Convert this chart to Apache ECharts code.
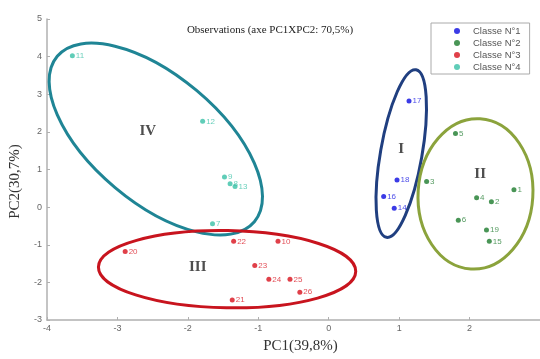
<!DOCTYPE html>
<html>
<head>
<meta charset="utf-8">
<script src="https://cdn.jsdelivr.net/npm/echarts@6/dist/echarts.min.js"></script>
<style>html,body{margin:0;padding:0;background:#fff}#c{width:540px;height:359px}</style>
</head>
<body>
<div id="c"></div>
<script>
// ---- data ----
const classNames = ['Classe N°1', 'Classe N°2', 'Classe N°3', 'Classe N°4'];
const class1 = [[1.14, 2.82, '17'], [0.97, 0.72, '18'], [0.78, 0.28, '16'], [0.93, -0.03, '14']];
const class2 = [[1.80, 1.96, '5'], [1.39, 0.68, '3'], [2.63, 0.46, '1'], [2.10, 0.25, '4'], [2.31, 0.14, '2'], [1.84, -0.35, '6'], [2.24, -0.61, '19'], [2.28, -0.91, '15']];
const class3 = [[-1.35, -0.91, '22'], [-0.72, -0.91, '10'], [-1.05, -1.55, '23'], [-0.85, -1.92, '24'], [-0.55, -1.92, '25'], [-0.41, -2.26, '26'], [-1.37, -2.47, '21'], [-2.89, -1.18, '20']];
const class4 = [[-3.64, 4.02, '11'], [-1.79, 2.28, '12'], [-1.48, 0.80, '9'], [-1.40, 0.62, '8'], [-1.33, 0.55, '13'], [-1.65, -0.44, '7']];
// group ellipses: centre x, centre y, semi-axis along x (x units), semi-axis along y (x units), clockwise tilt (deg)
const groupEllipses = [[-2.455, 1.81, 1.827, 0.90, 40], [1.03, 1.424, 0.295, 1.208, 10], [2.084, 0.352, 0.815, 1.068, 3.5], [-1.443, -1.65, 1.827, 0.548, 1]];
const groupNames = ['IV', 'I', 'II', 'III'];
const groupLabelPos = [[-2.57, 2.02], [1.03, 1.55], [2.15, 0.88], [-1.86, -1.59]];
const xTicks = [-4, -3, -2, -1, 0, 1, 2, 3];
const yTicks = [-3, -2, -1, 0, 1, 2, 3, 4, 5];

// ---- styles ----
const classColors = ['#0a0ae0', '#1c7a2c', '#d8101c', '#38c0a6'];
const ellipseColors = ['#1f8595', '#203f80', '#8ba33c', '#c8141e'];
const serif = 'Liberation Serif';

const chart = echarts.init(document.getElementById('c'), null, {renderer: 'canvas'});

function pointSeries(name, data, color) {
  return {
    name: name, type: 'scatter', z: 5,
    data: data.map(d => ({value: [d[0], d[1]], name: d[2]})),
    symbol: 'circle', symbolSize: 5,
    itemStyle: {color: color},
    label: {show: true, position: 'right', distance: 1, formatter: p => p.name,
      fontSize: 8, fontFamily: 'Liberation Sans', color: color, opacity: 0.75},
    emphasis: {disabled: true}
  };
}

const option = {
  animation: false,
  backgroundColor: '#fff',
  title: {
    text: 'Observations (axe PC1XPC2: 70,5%)', left: 'center', top: 20,
    textStyle: {fontFamily: serif, fontSize: 11, fontWeight: 'normal', color: '#222'}
  },
  legend: {
    data: classNames, orient: 'vertical', left: 431, top: 23,
    backgroundColor: '#fff', borderColor: '#aaa', borderWidth: 1, borderRadius: 0,
    padding: [3, 9, 2, 23], itemWidth: 6, itemHeight: 6, itemGap: 2, icon: 'circle',
    textStyle: {fontFamily: 'Liberation Sans', fontSize: 9.5, color: '#555', padding: [0, 0, 0, 8], lineHeight: 9},
    selectedMode: false, z: 10
  },
  grid: {left: 45, top: 19, right: -3, bottom: 29, containLabel: false},
  xAxis: {
    type: 'value', min: xTicks[0], max: xTicks[xTicks.length - 1], interval: 1,
    name: 'PC1(39,8%)', nameLocation: 'middle', nameGap: 19,
    nameTextStyle: {fontFamily: serif, fontSize: 15, color: '#333', padding: [0, 0, 0, 14]},
    axisLine: {show: true, onZero: false, lineStyle: {color: '#b0b0b0', width: 1.5}},
    axisTick: {show: true, inside: true, length: 3, lineStyle: {color: '#b0b0b0'}},
    axisLabel: {fontSize: 9, color: '#666', margin: 4, showMaxLabel: false, fontFamily: 'Liberation Sans'},
    splitLine: {show: false}
  },
  yAxis: {
    type: 'value', min: yTicks[0], max: yTicks[yTicks.length - 1], interval: 1,
    name: 'PC2(30,7%)', nameLocation: 'middle', nameGap: 24,
    nameTextStyle: {fontFamily: serif, fontSize: 15, color: '#333', padding: [0, 24, 0, 0]},
    axisLine: {show: true, onZero: false, lineStyle: {color: '#b0b0b0', width: 1.5}},
    axisTick: {show: true, inside: true, length: 3, lineStyle: {color: '#b0b0b0'}},
    axisLabel: {fontSize: 9, color: '#666', margin: 5, fontFamily: 'Liberation Sans'},
    splitLine: {show: false}
  },
  series: [
    {
      type: 'custom', z: 2, silent: true,
      coordinateSystem: 'cartesian2d',
      data: groupEllipses.map((e, i) => e.concat([i])),
      encode: {x: 0, y: 1},
      renderItem: function (params, api) {
        const c = api.coord([api.value(0), api.value(1)]);
        const ux = api.size([1, 0])[0];
        return {
          type: 'ellipse', x: c[0], y: c[1],
          rotation: -api.value(4) * Math.PI / 180,
          shape: {cx: 0, cy: 0, rx: api.value(2) * ux, ry: api.value(3) * ux},
          style: {fill: 'none', stroke: ellipseColors[api.value(5)], lineWidth: 3}
        };
      }
    },
    {
      type: 'scatter', z: 3, silent: true, symbolSize: 0,
      data: groupLabelPos.map((p, i) => ({value: p, name: groupNames[i]})),
      label: {show: true, position: 'inside', formatter: p => p.name,
        fontFamily: serif, fontSize: 15, fontWeight: 'bold', color: '#222'}
    },
    pointSeries(classNames[0], class1, classColors[0]),
    pointSeries(classNames[1], class2, classColors[1]),
    pointSeries(classNames[2], class3, classColors[2]),
    pointSeries(classNames[3], class4, classColors[3])
  ]
};
chart.setOption(option);
</script>
</body>
</html>
